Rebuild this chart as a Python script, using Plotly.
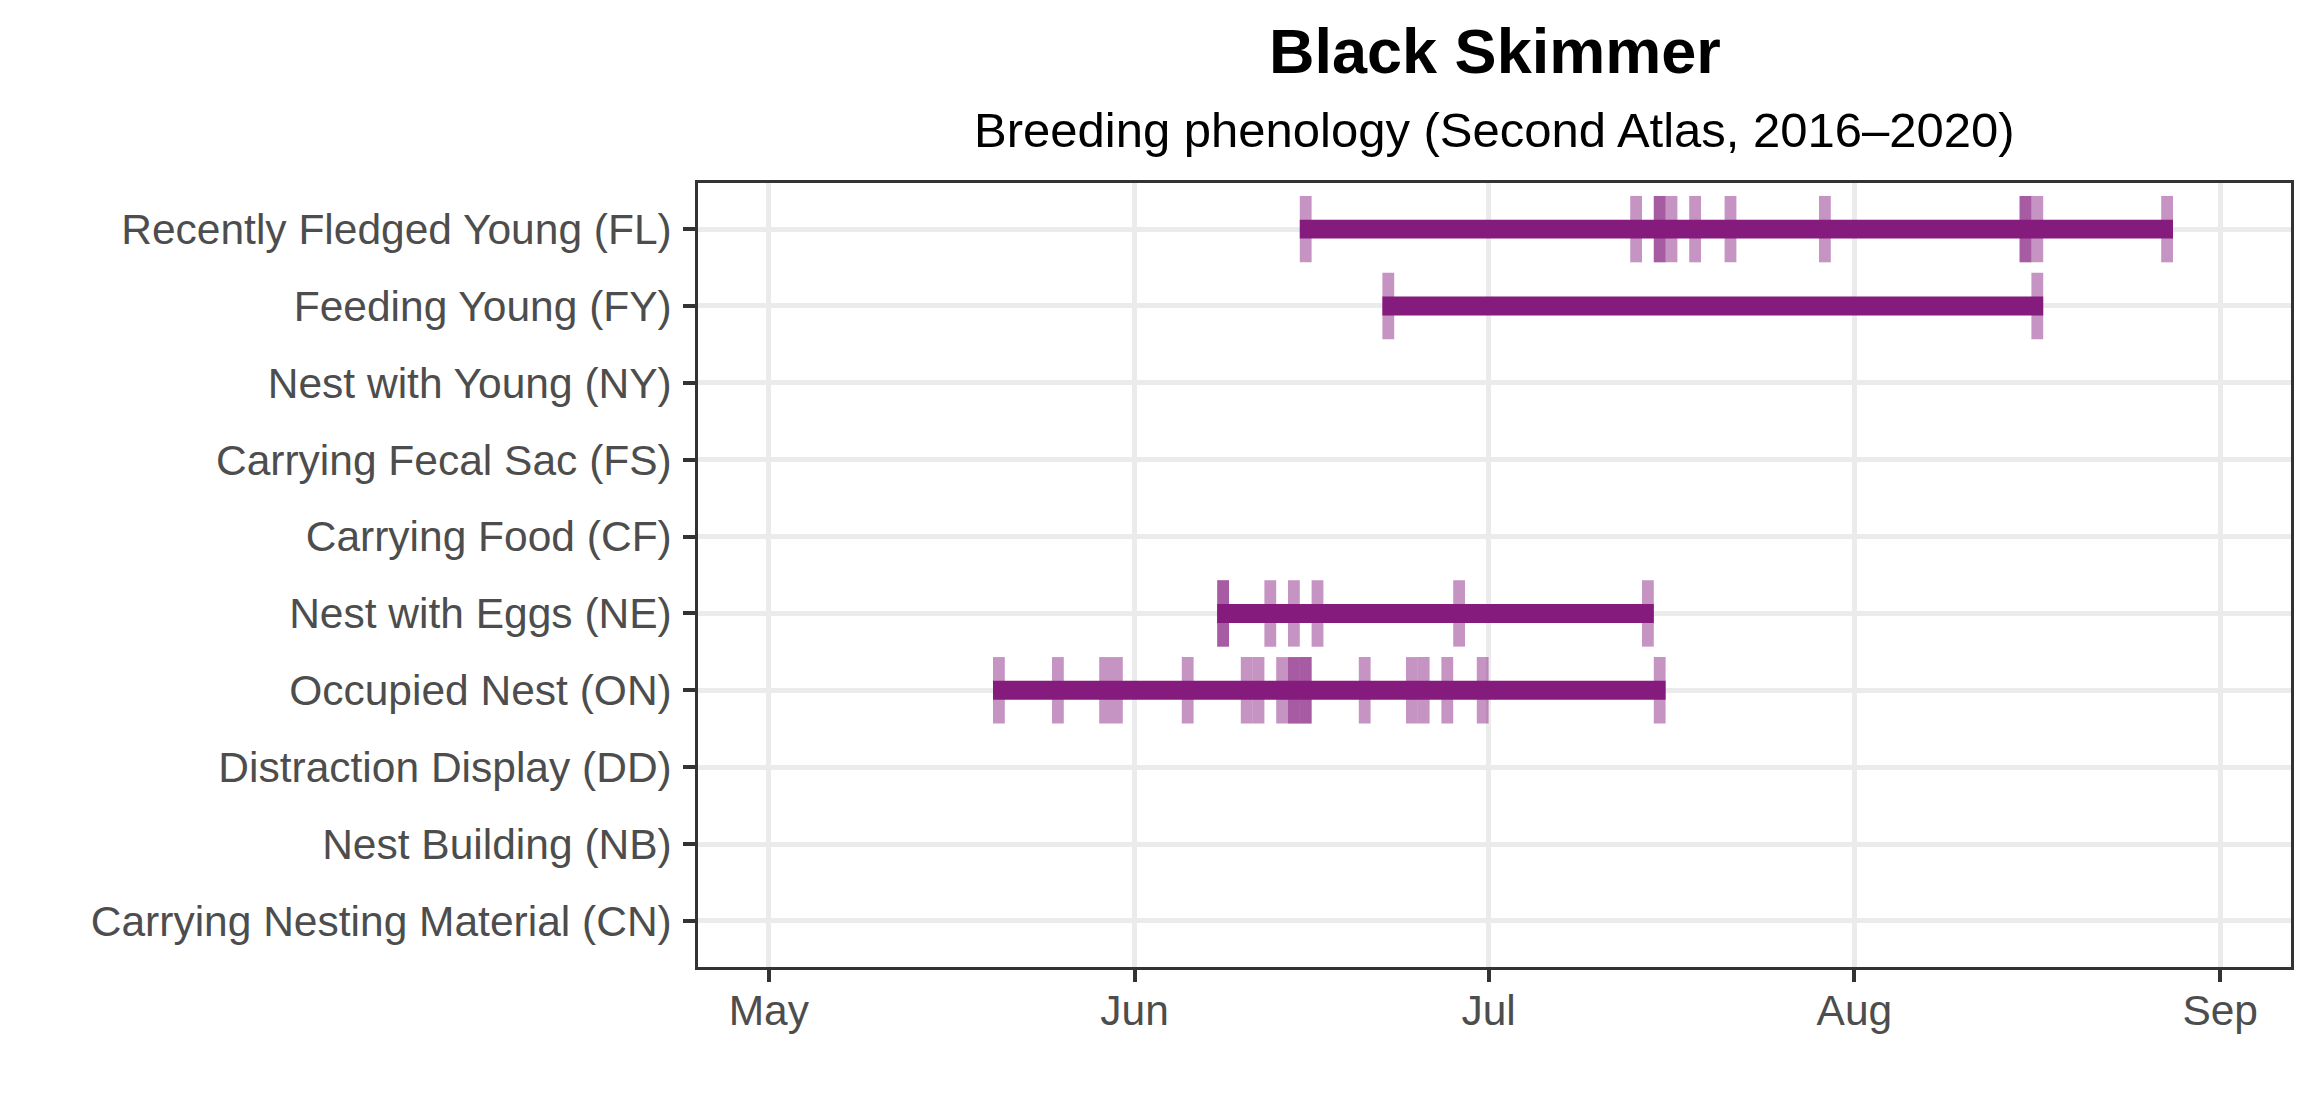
import pandas as pd
import plotly.graph_objects as go

### DADOS
codes = ["CN", "NB", "DD", "ON", "NE", "CF", "FS", "NY", "FY", "FL"]
labels = ["Carrying Nesting Material (CN)", "Nest Building (NB)", "Distraction Display (DD)",
          "Occupied Nest (ON)", "Nest with Eggs (NE)", "Carrying Food (CF)",
          "Carrying Fecal Sac (FS)", "Nest with Young (NY)", "Feeding Young (FY)",
          "Recently Fledged Young (FL)"]

# datas das observacoes (um traco por registro)
obs_FL = ["2019-06-15", "2019-07-13", "2019-07-15", "2019-07-15", "2019-07-16", "2019-07-18",
          "2019-07-21", "2019-07-29", "2019-08-15", "2019-08-15", "2019-08-16", "2019-08-27"]
obs_FY = ["2019-06-22", "2019-08-16"]
obs_NE = ["2019-06-08", "2019-06-08", "2019-06-12", "2019-06-14", "2019-06-16", "2019-06-28",
          "2019-07-14"]
obs_ON = ["2019-05-20", "2019-05-25", "2019-05-29", "2019-05-30", "2019-06-05", "2019-06-10",
          "2019-06-11", "2019-06-13", "2019-06-14", "2019-06-14", "2019-06-15", "2019-06-15",
          "2019-06-20", "2019-06-24", "2019-06-25", "2019-06-27", "2019-06-30", "2019-07-15"]

month_ticks = ["2019-05-01", "2019-06-01", "2019-07-01", "2019-08-01", "2019-09-01"]
month_labels = ["May", "Jun", "Jul", "Aug", "Sep"]

obs = {"FL": obs_FL, "FY": obs_FY, "NE": obs_NE, "ON": obs_ON}

cor = "#841B7D"
cor_tick = "rgba(132,27,125,0.47)"
DAY = 86400000
fonte = "Liberation Sans, Arial, sans-serif"

fig = go.Figure()

### TRACOS DAS OBSERVACOES
tx, ty, tb = [], [], []
for code, datas in obs.items():
    row = codes.index(code)
    for d in datas:
        tx.append(pd.Timestamp(d) + pd.Timedelta(hours=12))
        ty.append(0.864)
        tb.append(row - 0.432)
fig.add_trace(go.Bar(x=tx, y=ty, base=tb, width=[DAY] * len(tx), orientation="v",
                     marker=dict(color=cor_tick, line=dict(width=0)), showlegend=False))

### BARRAS (primeira ate ultima data)
bx, by, bb = [], [], []
for code, datas in obs.items():
    d = pd.to_datetime(datas)
    ini = d.min()
    fim = d.max() + pd.Timedelta(days=1)
    bb.append(ini)
    bx.append((fim - ini).total_seconds() * 1000)
    by.append(codes.index(code))
fig.add_trace(go.Bar(x=bx, y=by, base=bb, width=0.246, orientation="h",
                     marker=dict(color=cor, line=dict(width=0)), showlegend=False))

# a pagina tem margem de 8px no body
fig.update_layout(
    barmode="overlay",
    width=2312, height=1112, autosize=False,
    margin=dict(l=690, r=29, t=175, b=153),
    paper_bgcolor="white", plot_bgcolor="white",
    font=dict(family=fonte, color="#4D4D4D", size=42),
    annotations=[
        dict(text="<b>Black Skimmer</b>", xref="paper", yref="paper", x=0.5, y=1.168,
             xanchor="center", yanchor="middle", showarrow=False,
             font=dict(size=63, color="black", family=fonte)),
        dict(text="Breeding phenology (Second Atlas, 2016–2020)", xref="paper", yref="paper",
             x=0.5, y=1.0681, xanchor="center", yanchor="middle", showarrow=False,
             font=dict(size=49, color="black", family=fonte)),
    ],
)
fig.update_xaxes(type="date", range=["2019-04-25", "2019-09-07"],
                 tickvals=month_ticks, ticktext=month_labels,
                 showgrid=True, gridcolor="#EBEBEB", gridwidth=5, zeroline=False,
                 showline=True, mirror=True, linecolor="#333333", linewidth=2.5,
                 ticks="outside", ticklen=12, tickwidth=4, tickcolor="#333333",
                 ticklabelstandoff=-8,
                 tickfont=dict(size=42.5, color="#4D4D4D"))
fig.update_yaxes(range=[-0.6, 9.6], tickvals=list(range(len(labels))), ticktext=labels,
                 showgrid=True, gridcolor="#EBEBEB", gridwidth=5, zeroline=False,
                 showline=True, mirror=True, linecolor="#333333", linewidth=2.5,
                 ticks="outside", ticklen=12, tickwidth=4, tickcolor="#333333",
                 ticklabelstandoff=3,
                 tickfont=dict(size=42.5, color="#4D4D4D"))

fig.write_html("out.html")
